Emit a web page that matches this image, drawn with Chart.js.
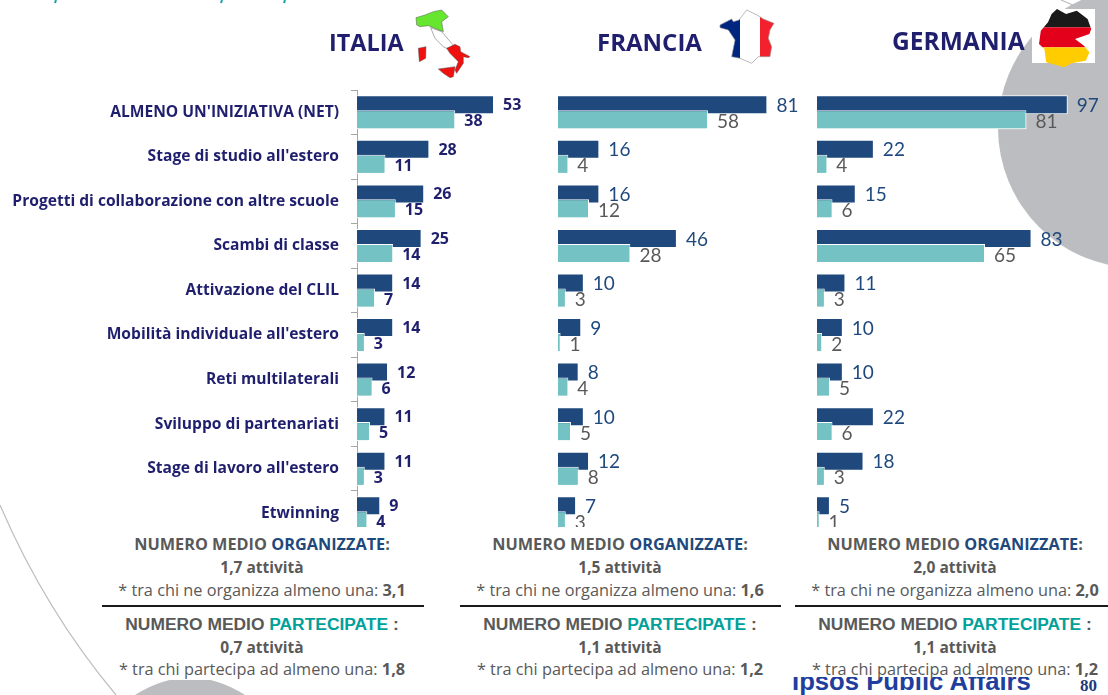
<!DOCTYPE html>
<html><head><meta charset="utf-8">
<script src="https://cdn.jsdelivr.net/npm/chart.js@4/dist/chart.umd.min.js"></script>
<style>
html,body{margin:0;padding:0;background:#fff;width:1108px;height:695px;overflow:hidden}
#page{position:relative;width:1108px;height:695px;overflow:hidden;font-family:"Open Sans",sans-serif}
.abs{position:absolute}
.wrap{position:absolute;left:0;top:0;width:1108px;height:527px;overflow:hidden}
.wrap canvas{position:absolute;left:0;top:0}
.title{position:absolute;font:700 24.5px "Open Sans",sans-serif;color:#1f1f6e;line-height:30px;white-space:nowrap}
.st{position:absolute;text-align:center;width:400px;font-size:16.3px;line-height:20px;color:#595959;white-space:nowrap}
.b{font-weight:700}
.act{font-size:15.5px}
.ar{font-family:"Liberation Sans",sans-serif;font-weight:700;font-size:17.4px}
.org{color:#1f497d}.par{color:#00a19a}
.rule{position:absolute;height:2px;background:#1a1a1a;top:605px}
</style></head>
<body><div id="page">
<svg class="abs" style="left:0;top:0" width="1108" height="695">
  <circle cx="1138" cy="128" r="140" fill="#bcbdc0"/>
  <path d="M1061 0 L1080 8" stroke="#bcbdc0" stroke-width="1.2" fill="none"/>
  <path d="M0 505 Q45 610 116 695" stroke="#bcbdc0" stroke-width="1.2" fill="none"/>
  <path d="M135 695 Q190 660 245 695 Z" fill="#bcbdc0"/>
  <rect x="120" y="650" width="140" height="30" fill="#fff"/>
  <g stroke="#12a3a8" stroke-width="2" fill="none"><path d="M56 0 L55 3"/><path d="M222 0 L221 3"/><path d="M285 0 L284 3"/></g>
  <!-- Italia -->
  <g transform="translate(400,5) scale(.3333)" stroke="#555" stroke-width="1.5">
    <polygon fill="#66e62e" points="48,38 75,30 100,20 125,15 145,35 125,50 130,80 100,68 85,62 60,65 50,60"/>
    <polygon fill="#fff" points="92,68 125,80 155,115 165,125 140,130 130,125 105,100"/>
    <polygon fill="#f01010" points="140,130 165,118 180,125 182,140 210,155 205,158 190,155 190,175 170,205 165,195 175,170 150,145"/>
    <polygon fill="#f01010" points="55,130 78,125 77,160 58,170"/>
    <polygon fill="#f01010" points="115,192 165,185 160,215 150,218 130,205"/>
  </g>
  <!-- Francia -->
  <defs>
    <clipPath id="fr"><polygon points="15,60 50,42 55,50 72,45 95,15 130,32 145,42 177,55 165,75 160,100 170,125 165,155 130,155 110,175 75,160 50,155 60,105 40,75 15,68"/></clipPath>
    <clipPath id="de"><polygon points="75,15 100,30 130,20 160,45 170,75 165,90 125,105 150,125 165,145 155,170 115,178 95,190 45,175 40,135 25,120 30,80 50,55 60,30"/></clipPath>
  </defs>
  <g transform="translate(715,5) scale(.3333)">
    <g clip-path="url(#fr)">
      <rect x="0" y="0" width="75" height="210" fill="#00267f"/>
      <rect x="75" y="0" width="60" height="210" fill="#fff"/>
      <rect x="135" y="0" width="75" height="210" fill="#f3212d"/>
    </g>
    <polygon fill="none" stroke="#999" stroke-width="2" points="15,60 50,42 55,50 72,45 95,15 130,32 145,42 177,55 165,75 160,100 170,125 165,155 130,155 110,175 75,160 50,155 60,105 40,75 15,68"/>
  </g>
  <!-- Germania -->
  <rect x="1032" y="9" width="63" height="54" fill="#fff"/>
  <g transform="translate(1030,4) scale(.36,.3333)" clip-path="url(#de)">
    <rect x="0" y="0" width="210" height="70" fill="#1a1a1a"/>
    <rect x="0" y="70" width="210" height="60" fill="#e2001a"/>
    <rect x="0" y="130" width="210" height="70" fill="#ffcc00"/>
  </g>
</svg>

<div class="wrap"><canvas id="c1" width="1108" height="540"></canvas><canvas id="c2" width="1108" height="540"></canvas><canvas id="c3" width="1108" height="540"></canvas></div>

<div class="title" style="left:329px;top:27px;font-size:23.4px">ITALIA</div>
<div class="title" style="left:597px;top:27px;font-size:24px">FRANCIA</div>
<div class="title" style="left:892px;top:26px">GERMANIA</div>

<div class="st b" style="left:62px;top:534px">NUMERO MEDIO <span class="org">ORGANIZZATE</span>:</div>
<div class="st b act" style="left:62px;top:557px">1,7 attività</div>
<div class="st" style="left:62px;top:580px">* tra chi ne organizza almeno una: <span class="b">3,1</span></div>
<div class="rule" style="left:102px;width:322px"></div>
<div class="st ar" style="left:62px;top:614px">NUMERO MEDIO <span class="par">PARTECIPATE</span> :</div>
<div class="st b act" style="left:62px;top:637px">0,7 attività</div>
<div class="st" style="left:62px;top:659px">* tra chi partecipa ad almeno una: <span class="b">1,8</span></div>

<div class="st b" style="left:420px;top:534px">NUMERO MEDIO <span class="org">ORGANIZZATE</span>:</div>
<div class="st b act" style="left:420px;top:557px">1,5 attività</div>
<div class="st" style="left:420px;top:580px">* tra chi ne organizza almeno una: <span class="b">1,6</span></div>
<div class="rule" style="left:460px;width:321px"></div>
<div class="st ar" style="left:420px;top:614px">NUMERO MEDIO <span class="par">PARTECIPATE</span> :</div>
<div class="st b act" style="left:420px;top:637px">1,1 attività</div>
<div class="st" style="left:420px;top:659px">* tra chi partecipa ad almeno una: <span class="b">1,2</span></div>

<div class="abs" style="left:780px;top:677px;width:260px;height:18px;overflow:hidden"><div class="abs ar" style="left:12px;top:-12px;font-size:25.7px;line-height:32px;color:#1f3f9e;white-space:nowrap">Ipsos Public Affairs</div></div>
<div class="abs" style="left:1080px;top:676px;font:700 17px 'Liberation Serif',serif;color:#1f3a7a">80</div>

<div class="st b" style="left:755px;top:534px">NUMERO MEDIO <span class="org">ORGANIZZATE</span>:</div>
<div class="st b act" style="left:755px;top:557px">2,0 attività</div>
<div class="st" style="left:755px;top:580px">* tra chi ne organizza almeno una: <span class="b">2,0</span></div>
<div class="rule" style="left:795px;width:313px"></div>
<div class="st ar" style="left:755px;top:614px">NUMERO MEDIO <span class="par">PARTECIPATE</span> :</div>
<div class="st b act" style="left:755px;top:637px">1,1 attività</div>
<div class="st" style="left:755px;top:659px">* tra chi partecipa ad almeno una: <span class="b">1,2</span></div>
</div>

<script>
const categories = ["ALMENO UN'INIZIATIVA (NET)","Stage di studio all'estero","Progetti di collaborazione con altre scuole","Scambi di classe","Attivazione del CLIL","Mobilità individuale all'estero","Reti multilaterali","Sviluppo di partenariati","Stage di lavoro all'estero","Etwinning"];
const italiaOrganizzate = [53,28,26,25,14,14,12,11,11,9];
const italiaPartecipate = [38,11,15,14,7,3,6,5,3,4];
const franciaOrganizzate = [81,16,16,46,10,9,8,10,12,7];
const franciaPartecipate = [58,4,12,28,3,1,4,5,8,3];
const germaniaOrganizzate = [97,22,15,83,11,10,10,22,18,5];
const germaniaPartecipate = [81,4,6,65,3,2,5,6,3,1];

const DARK = '#1f497d', TEAL = '#74c2c3';

const labelsPlugin = {
  id: 'labelsPlugin',
  afterDatasetsDraw(chart, args, opts) {
    // partecipate bars sit over the organizzate ones
    chart.getDatasetMeta(1).controller.draw();
    const ctx = chart.ctx;
    ctx.save();
    ctx.textAlign = 'left';
    ctx.textBaseline = 'middle';
    [0, 1].forEach(d => {
      const meta = chart.getDatasetMeta(d);
      ctx.font = opts.font;
      ctx.fillStyle = opts.colors[d];
      meta.data.forEach((bar, i) => {
        ctx.fillText(chart.data.datasets[d].data[i], bar.x + opts.gap, bar.y + opts.dy[d]);
      });
    });
    ctx.restore();
  }
};

function makeChart(id, org, par, left, withAxis, labelOpts) {
  return new Chart(document.getElementById(id), {
    type: 'bar',
    plugins: [labelsPlugin],
    data: {
      labels: categories,
      datasets: [
        {data: org, backgroundColor: DARK, borderColor: '#ffffff', borderWidth: 1},
        {data: par, backgroundColor: TEAL, borderColor: '#ffffff', borderWidth: 1}
      ]
    },
    options: {
      indexAxis: 'y',
      responsive: false,
      animation: false,
      events: [],
      layout: {padding: {left: withAxis ? 0 : left, right: 1108 - left - 258.5, top: 90, bottom: 4.5}},
      categoryPercentage: 0.672,
      barPercentage: 1.27,
      scales: {
        x: {display: false, min: 0, max: 100},
        y: withAxis ? {
          afterFit(s) { s.width = left; s.paddingTop = 0; s.paddingBottom = 0; },
          grid: {drawOnChartArea: false, drawTicks: true, tickLength: 6, color: '#a6a6a6'},
          border: {color: '#a6a6a6', width: 1},
          ticks: {color: '#1f1f6e', padding: 12, autoSkip: false, font: {family: 'Open Sans', weight: '700', size: 15.6}}
        } : {display: false}
      },
      plugins: {legend: {display: false}, tooltip: {enabled: false}, labelsPlugin: labelOpts}
    }
  });
}

const boldLabels = {font: "700 16px 'Open Sans'", colors: ['#1f1f6e', '#1f1f6e'], gap: 9, dy: [1, 2]};
const plainLabels = {font: "400 19px Lato", colors: ['#1f497d', '#595959'], gap: 9, dy: [1, 2]};
makeChart('c1', italiaOrganizzate, italiaPartecipate, 357, true, boldLabels);
makeChart('c2', franciaOrganizzate, franciaPartecipate, 558, false, plainLabels);
makeChart('c3', germaniaOrganizzate, germaniaPartecipate, 817, false, plainLabels);
</script>
</body></html>
